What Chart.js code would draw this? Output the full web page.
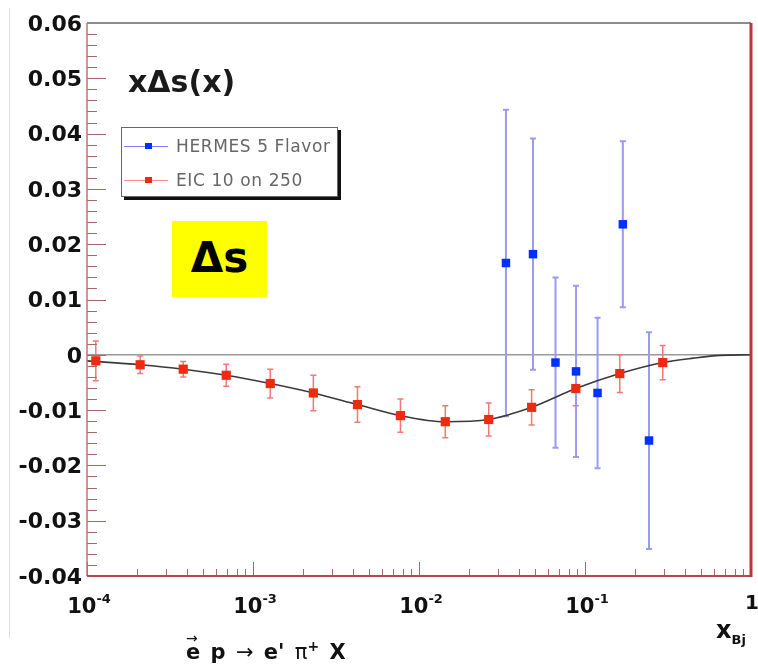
<!DOCTYPE html>
<html>
<head>
<meta charset="utf-8">
<script src="https://cdn.jsdelivr.net/npm/chart.js@4"></script>
<style>
  body { margin: 0; background: #fff; font-family: "DejaVu Sans", sans-serif; }
  #wrap { position: relative; width: 758px; height: 668px; }
  #edge { position: absolute; left: 9px; top: 8px; width: 1px; height: 630px; background: #ddd; }
  .title { position: absolute; left: 128px; top: 64px; font: bold 30px "DejaVu Sans", sans-serif; color: #1a1a1a; }
  .legend { position: absolute; left: 121px; top: 127px; width: 215px; height: 68px; border: 1px solid #666; background: #fff;
            box-shadow: 3px 3px 0 #111; overflow: hidden; }
  .legend .row { position: absolute; left: 0; height: 20px; display: flex; align-items: center; white-space: nowrap;
                 font: 17px "DejaVu Sans", sans-serif; letter-spacing: 0.6px; color: #666; }
  .legend .mk { position: relative; width: 44px; height: 20px; margin-left: 2px; margin-right: 8px; }
  .legend .mk .ln { position: absolute; left: 0; right: 0; top: 10px; height: 1px; }
  .legend .mk .sq { position: absolute; left: 21px; top: 7px; width: 7px; height: 6px; }
  .delta { position: absolute; left: 172px; top: 221px; width: 95px; height: 76px; background: #ffff00;
           font: bold 42px "DejaVu Sans", sans-serif; color: #000; display: flex; align-items: center; justify-content: center; }
  .delta span { position: relative; top: -2px; }
  .xbj { position: absolute; left: 716px; top: 616px; font: bold 24px "DejaVu Sans", sans-serif; color: #111; }
  .xbj sub { font-size: 13px; vertical-align: -6px; }
  .one { position: absolute; left: 745px; top: 590px; font: bold 20px "DejaVu Sans", sans-serif; color: #111; }
  .react { position: absolute; left: 186px; top: 638px; font: bold 21px "DejaVu Sans", sans-serif; word-spacing: 3px; color: #111; white-space: nowrap; }
  .react .n { font-weight: normal; }
  .react .vec { position: relative; display: inline-block; }
  .react .vec::before { content: "\2192"; position: absolute; left: 0px; top: -10px; font-weight: normal; font-size: 14px; }
</style>
</head>
<body>
<div id="wrap">
  <div id="edge"></div>
  <canvas id="c"></canvas>
  <div class="title">x&Delta;s(x)</div>
  <div class="legend">
    <div class="row" style="top:8px"><div class="mk"><div class="ln" style="background:#8080ff"></div><div class="sq" style="background:#0030ff"></div></div>HERMES 5 Flavor</div>
    <div class="row" style="top:42px"><div class="mk"><div class="ln" style="background:#f09090"></div><div class="sq" style="background:#ee2a10"></div></div>EIC 10 on 250</div>
  </div>
  <div class="delta"><span>&Delta;s</span></div>
  <div class="one">1</div>
  <div class="xbj">x<sub>Bj</sub></div>
  <div class="react"><span class="vec">e</span> p <span class="n">&rarr;</span> e' <span class="n">&pi;</span><sup style="font-size:14px">+</sup> X</div>
</div>
<script>
// EIC 10 on 250 pseudo-data
const eicX   = [1.13e-4, 2.09e-4, 3.80e-4, 6.90e-4, 1.27e-3, 2.31e-3, 4.26e-3, 7.73e-3, 1.44e-2, 2.63e-2, 4.77e-2, 8.80e-2, 0.162, 0.294];
const eicY   = [-0.0011, -0.0018, -0.0026, -0.0037, -0.0052, -0.0069, -0.0090, -0.0110, -0.0121, -0.0117, -0.0095, -0.0061, -0.0034, -0.0014];
const eicErr = [0.0036, 0.0016, 0.0014, 0.0020, 0.0026, 0.0032, 0.0032, 0.0030, 0.0029, 0.0030, 0.0032, 0.0031, 0.0034, 0.0031];

// HERMES 5 flavor
const hermesX   = [0.0334, 0.0486, 0.0664, 0.0883, 0.119, 0.169, 0.243];
const hermesY   = [0.0166, 0.0182, -0.0014, -0.0030, -0.0069, 0.0236, -0.0155];
const hermesErr = [0.0277, 0.0209, 0.0154, 0.0155, 0.0136, 0.0150, 0.0196];

// input curve
const curveX = [1e-4, 2.09e-4, 3.80e-4, 6.90e-4, 1.27e-3, 2.31e-3, 4.26e-3, 7.73e-3, 1.44e-2, 2.63e-2, 4.77e-2, 8.80e-2, 0.162, 0.294, 0.45, 0.65, 1.0];
const curveY = [-0.0011, -0.0018, -0.0026, -0.0037, -0.0052, -0.0069, -0.0090, -0.0110, -0.0121, -0.0117, -0.0095, -0.0061, -0.0034, -0.0014, -0.0006, -0.0001, 0];

const xDecades = [-4, -3, -2, -1];
const yMin = -0.04, yMax = 0.06, yStep = 0.01, yMinor = 0.002;

const pts = (xs, ys) => xs.map((x, i) => ({ x, y: ys[i] }));

const errorBars = {
  id: "errorBars",
  beforeDatasetsDraw(chart) {
    const { ctx, scales: { x, y } } = chart;
    const sets = [[eicX, eicY, eicErr, "#f27878", 1.5, 3], [hermesX, hermesY, hermesErr, "#9a9af0", 2, 3]];
    ctx.save();
    sets.forEach(([xs, ys, es, col, w, cap]) => {
      ctx.strokeStyle = col; ctx.lineWidth = w;
      xs.forEach((xv, i) => {
        const px = x.getPixelForValue(xv);
        const top = y.getPixelForValue(ys[i] + es[i]);
        const bot = y.getPixelForValue(ys[i] - es[i]);
        ctx.beginPath();
        ctx.moveTo(px, top); ctx.lineTo(px, bot);
        ctx.moveTo(px - cap, top); ctx.lineTo(px + cap, top);
        ctx.moveTo(px - cap, bot); ctx.lineTo(px + cap, bot);
        ctx.stroke();
      });
    });
    ctx.restore();
  }
};

const frame = {
  id: "frame",
  afterDatasetsDraw(chart) {
    const { ctx, chartArea: a, scales: { x, y } } = chart;
    ctx.save();
    // inward ticks
    ctx.strokeStyle = "#a86868"; ctx.lineWidth = 1;
    ctx.beginPath();
    const nY = Math.round((yMax - yMin) / yMinor);
    for (let k = 0; k <= nY; k++) {
      const v = yMin + k * yMinor;
      const py = Math.round(y.getPixelForValue(v)) + 0.5;
      const len = k % 5 === 0 ? 19 : 10;
      ctx.moveTo(a.left, py); ctx.lineTo(a.left + len, py);
    }
    xDecades.forEach(d => {
      for (let m = 1; m <= 9; m++) {
        const px = Math.round(x.getPixelForValue(m * Math.pow(10, d))) + 0.5;
        const len = m === 1 ? 14 : 7;
        ctx.moveTo(px, a.bottom); ctx.lineTo(px, a.bottom - len);
      }
    });
    ctx.stroke();
    // frame lines
    ctx.lineWidth = 2; ctx.strokeStyle = "#8c8c8c";
    ctx.beginPath(); ctx.moveTo(a.left, a.top); ctx.lineTo(a.right, a.top); ctx.stroke();
    ctx.strokeStyle = "#c07070"; ctx.lineWidth = 1.5;
    ctx.beginPath(); ctx.moveTo(a.left, a.top); ctx.lineTo(a.left, a.bottom); ctx.stroke();
    ctx.strokeStyle = "#b84848"; ctx.lineWidth = 2;
    ctx.beginPath(); ctx.moveTo(a.left, a.bottom); ctx.lineTo(a.right, a.bottom); ctx.stroke();
    ctx.strokeStyle = "#b83838"; ctx.lineWidth = 3;
    ctx.beginPath(); ctx.moveTo(a.right, a.top); ctx.lineTo(a.right, a.bottom + 1); ctx.stroke();
    // x tick labels 10^d
    ctx.fillStyle = "#111"; ctx.textBaseline = "alphabetic";
    xDecades.forEach(d => {
      const px = x.getPixelForValue(Math.pow(10, d));
      ctx.font = "bold 21px 'DejaVu Sans'";
      const w1 = ctx.measureText("10").width;
      ctx.font = "bold 13px 'DejaVu Sans'";
      const sup = "-" + Math.abs(d);
      const w2 = ctx.measureText(sup).width;
      const x0 = px - (w1 + w2) / 2 + 2;
      ctx.font = "bold 21px 'DejaVu Sans'";
      ctx.fillText("10", x0, 613);
      ctx.font = "bold 13px 'DejaVu Sans'";
      ctx.fillText(sup, x0 + w1, 603);
    });
    ctx.restore();
  }
};

new Chart(document.getElementById("c"), {
  type: "scatter",
  data: {
    datasets: [
      { type: "line", data: pts(curveX, curveY), borderColor: "#3a3a3a", borderWidth: 1.6, pointRadius: 0,
        cubicInterpolationMode: "monotone", fill: false, order: 3 },
      { data: pts(hermesX, hermesY), pointStyle: "rect", pointRadius: 6, backgroundColor: "#0030ff", borderColor: "#0030ff", borderWidth: 0, order: 1 },
      { data: pts(eicX, eicY), pointStyle: "rect", pointRadius: 6.5, backgroundColor: "#ee2a10", borderColor: "#d02010", borderWidth: 0, order: 2 },
    ],
  },
  options: {
    responsive: true, maintainAspectRatio: false, animation: false,
    layout: { padding: { top: 23, right: 7, left: 0, bottom: 0 } },
    plugins: { legend: { display: false }, tooltip: { enabled: false } },
    scales: {
      x: {
        type: "logarithmic", min: 1e-4, max: 1,
        grid: { display: false }, border: { display: false },
        ticks: { display: false },
        afterFit: (s) => { s.height = 92; },
      },
      y: {
        min: yMin, max: yMax,
        border: { display: false },
        grid: { drawTicks: false, color: (c) => (c.tick && Math.abs(c.tick.value) < 1e-9 ? "#9a9a9a" : "rgba(0,0,0,0)"), lineWidth: 1.5 },
        ticks: {
          stepSize: yStep, padding: 5, color: "#111", labelOffset: 2,
          font: { family: "DejaVu Sans", weight: "bold", size: 22 },
          callback: (v) => (Math.abs(v) < 1e-9 ? "0" : v.toFixed(2)),
        },
        afterFit: (s) => { s.width = 87; },
      },
    },
  },
  plugins: [errorBars, frame],
});
</script>
</body>
</html>
